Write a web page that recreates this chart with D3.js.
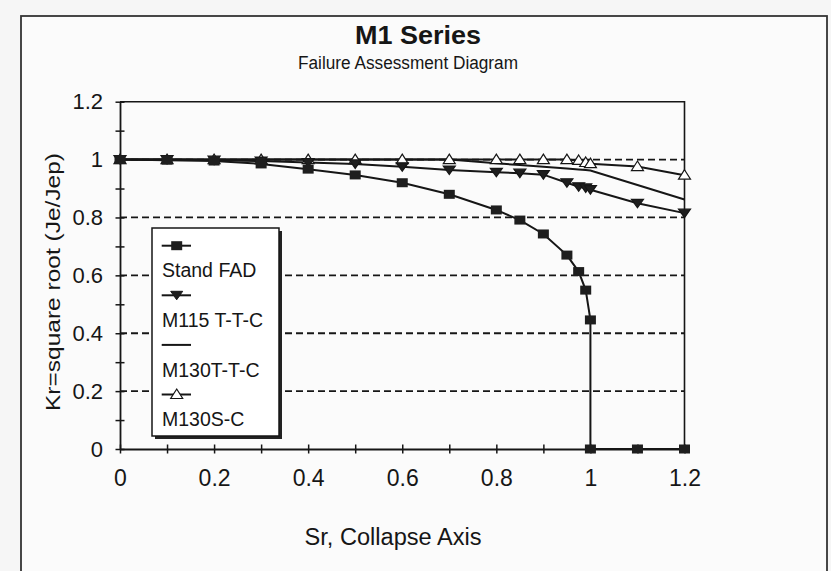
<!DOCTYPE html>
<html>
<head>
<meta charset="utf-8">
<script src="https://cdn.jsdelivr.net/npm/d3@7"></script>
<style>
  body { margin: 0; background: #f6f6f6; }
  svg { display: block; font-family: "Liberation Sans", Arial, sans-serif; }
</style>
</head>
<body>
<div id="chart"></div>
<script>
// Sr values (collapse axis) and Kr values for each series
var standSr = [0, 0.1, 0.2, 0.3, 0.4, 0.5, 0.6, 0.7, 0.8, 0.85, 0.9, 0.95, 0.975, 0.99, 1.0, 1.0, 1.1, 1.2];
var standKr = [1.0, 0.998, 0.995, 0.985, 0.967, 0.947, 0.92, 0.88, 0.826, 0.791, 0.743, 0.67, 0.613, 0.549, 0.446, 0, 0, 0];

var testSr = [0, 0.1, 0.2, 0.3, 0.4, 0.5, 0.6, 0.7, 0.8, 0.85, 0.9, 0.95, 0.975, 0.99, 1.0, 1.1, 1.2];
var m115Kr = [1.0, 1.0, 0.998, 0.995, 0.99, 0.985, 0.975, 0.964, 0.956, 0.953, 0.948, 0.92, 0.906, 0.902, 0.896, 0.849, 0.815];
var m130tKr = [1.0, 1.0, 1.0, 1.0, 1.0, 1.0, 1.0, 1.0, 0.987, 0.981, 0.975, 0.969, 0.966, 0.964, 0.962, 0.912, 0.862];
var m130sKr = [1.0, 1.0, 1.0, 1.0, 1.0, 1.0, 1.0, 1.0, 1.0, 1.0, 1.0, 1.0, 0.997, 0.99, 0.986, 0.976, 0.946];

var seriesNames = ["Stand FAD", "M115 T-T-C", "M130T-T-C", "M130S-C"];
var tickValues = [0, 0.1, 0.2, 0.3, 0.4, 0.5, 0.6, 0.7, 0.8, 0.9, 1.0, 1.1, 1.2];
var gridValues = [0.2, 0.4, 0.6, 0.8, 1.0];

var width = 831, height = 571;
var ink = "#161616";

var svg = d3.select("#chart")
  .append("svg")
  .attr("width", width)
  .attr("height", height);

// chart frame
svg.append("rect")
  .attr("x", 21).attr("y", 16)
  .attr("width", 806).attr("height", 600)
  .attr("fill", "#fbfbfb")
  .attr("stroke", "#333")
  .attr("stroke-width", 1.8);

var x = d3.scaleLinear().domain([0, 1.2]).range([120, 684.5]);
var y = d3.scaleLinear().domain([0, 1.2]).range([449, 101.7]);

// titles
svg.append("text")
  .attr("x", 418).attr("y", 44)
  .attr("text-anchor", "middle")
  .attr("font-weight", "bold")
  .attr("font-size", 26)
  .attr("textLength", 126)
  .attr("lengthAdjust", "spacingAndGlyphs")
  .attr("fill", ink)
  .text("M1 Series");
svg.append("text")
  .attr("x", 408).attr("y", 69)
  .attr("text-anchor", "middle")
  .attr("font-size", 18)
  .attr("textLength", 220)
  .attr("lengthAdjust", "spacingAndGlyphs")
  .attr("fill", ink)
  .text("Failure Assessment Diagram");

// dashed gridlines
svg.append("g")
  .selectAll("line")
  .data(gridValues)
  .join("line")
  .attr("x1", x(0)).attr("x2", x(1.2))
  .attr("y1", function(d){ return y(d); })
  .attr("y2", function(d){ return y(d); })
  .attr("stroke", ink)
  .attr("stroke-width", 1.8)
  .attr("stroke-dasharray", "7,4");

// plot border (top and right)
svg.append("path")
  .attr("d", "M" + x(0) + "," + y(1.2) + "H" + x(1.2) + "V" + y(0))
  .attr("fill", "none")
  .attr("stroke", ink)
  .attr("stroke-width", 1.6);

function fmt(d){
  var t = Math.round(d * 10);
  if (t % 2 !== 0) return "";
  return String(+d.toFixed(1));
}

var xAxis = svg.append("g")
  .attr("transform", "translate(0," + y(0) + ")")
  .call(d3.axisBottom(x).tickValues(tickValues).tickFormat(fmt).tickSizeInner(4.5).tickSizeOuter(0).tickPadding(16));
xAxis.selectAll(".tick line").attr("y1", -4.5).attr("y2", 4.5).attr("stroke", ink).attr("stroke-width", 1.5);
xAxis.select(".domain").attr("stroke", ink).attr("stroke-width", 1.8);
xAxis.selectAll("text").attr("font-size", 23).attr("fill", ink).attr("font-family", "Liberation Sans, Arial, sans-serif");

var yAxis = svg.append("g")
  .attr("transform", "translate(" + x(0) + ",0)")
  .call(d3.axisLeft(y).tickValues(tickValues).tickFormat(fmt).tickSizeInner(4.5).tickSizeOuter(0).tickPadding(12.5));
yAxis.selectAll(".tick line").attr("x1", -4.5).attr("x2", 4.5).attr("stroke", ink).attr("stroke-width", 1.5);
yAxis.select(".domain").attr("stroke", ink).attr("stroke-width", 1.8);
yAxis.selectAll("text").attr("font-size", 22).attr("fill", ink).attr("font-family", "Liberation Sans, Arial, sans-serif");

// axis titles
svg.append("text")
  .attr("x", 393).attr("y", 545)
  .attr("text-anchor", "middle")
  .attr("font-size", 23.5)
  .attr("textLength", 177)
  .attr("lengthAdjust", "spacingAndGlyphs")
  .attr("fill", ink)
  .text("Sr, Collapse Axis");
svg.append("text")
  .attr("transform", "translate(60,282) rotate(-90)")
  .attr("text-anchor", "middle")
  .attr("font-size", 21)
  .attr("textLength", 258)
  .attr("lengthAdjust", "spacingAndGlyphs")
  .attr("fill", ink)
  .text("Kr=square root (Je/Jep)");

// series
var line = d3.line()
  .x(function(d){ return x(d[0]); })
  .y(function(d){ return y(d[1]); });

var standPts = d3.zip(standSr, standKr);
var m115Pts = d3.zip(testSr, m115Kr);
var m130tPts = d3.zip(testSr, m130tKr);
var m130sPts = d3.zip(testSr, m130sKr);

[m130tPts, m130sPts, m115Pts, standPts].forEach(function(pts){
  svg.append("path")
    .attr("d", line(pts))
    .attr("fill", "none")
    .attr("stroke", ink)
    .attr("stroke-width", 2);
});

var triUp = "M0,-5.5L6,4L-6,4Z";
var triDown = "M-6,-4L6,-4L0,4.5Z";

function drawSquares(g, pts){
  g.selectAll("rect.sq")
    .data(pts)
    .join("rect")
    .attr("class", "sq")
    .attr("x", function(d){ return x(d[0]) - 5.5; })
    .attr("y", function(d){ return y(d[1]) - 4.5; })
    .attr("width", 11).attr("height", 9)
    .attr("fill", "#1e1e1e");
}
function drawShape(g, pts, shape, fill){
  g.selectAll("path.mk")
    .data(pts)
    .join("path")
    .attr("class", "mk")
    .attr("d", shape)
    .attr("transform", function(d){ return "translate(" + x(d[0]) + "," + y(d[1]) + ")"; })
    .attr("fill", fill)
    .attr("stroke", ink)
    .attr("stroke-width", 1.2);
}

drawShape(svg.append("g"), m130sPts, triUp, "#fff");
drawShape(svg.append("g"), m115Pts, triDown, "#1e1e1e");
drawSquares(svg.append("g"), standPts);

// legend
var lg = svg.append("g").attr("transform", "translate(152,228)");
lg.append("rect").attr("x", 3).attr("y", 3).attr("width", 127).attr("height", 208).attr("fill", "#222");
lg.append("rect").attr("width", 127).attr("height", 208).attr("fill", "#fff").attr("stroke", ink).attr("stroke-width", 1.5);

var rowGap = 49.6;
seriesNames.forEach(function(name, i){
  var my = 17.7 + i * rowGap;
  var row = lg.append("g");
  row.append("line")
    .attr("x1", 9.7).attr("x2", 39)
    .attr("y1", my).attr("y2", my)
    .attr("stroke", ink).attr("stroke-width", 2);
  if (i === 0) {
    row.append("rect").attr("x", 19.2).attr("y", my - 4.5).attr("width", 11).attr("height", 9).attr("fill", "#1e1e1e");
  } else if (i === 1) {
    row.append("path").attr("d", triDown).attr("transform", "translate(24.7," + my + ")").attr("fill", "#1e1e1e").attr("stroke", ink);
  } else if (i === 3) {
    row.append("path").attr("d", triUp).attr("transform", "translate(24.7," + my + ")").attr("fill", "#fff").attr("stroke", ink).attr("stroke-width", 1.2);
  }
  row.append("text")
    .attr("x", 10).attr("y", my + 24.8)
    .attr("dy", "0.35em")
    .attr("font-size", 19.5)
    .attr("fill", ink)
    .text(name);
});
</script>
</body>
</html>
